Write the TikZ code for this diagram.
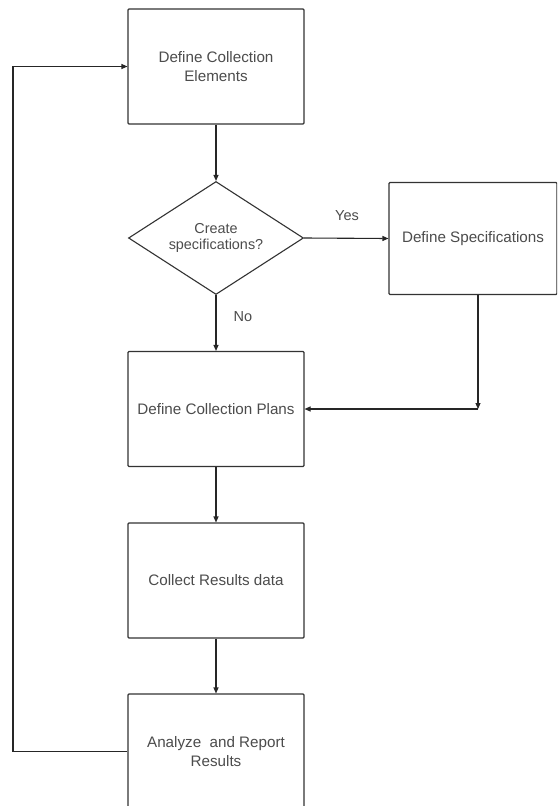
\documentclass[tikz,border=0pt]{standalone}
\usepackage{fontspec}
\setmainfont{Liberation Sans}
\usetikzlibrary{arrows.meta,shapes.geometric}
\begin{document}
\begin{tikzpicture}[x=1pt,y=-1pt,
  box/.style={draw=black!80, line width=1.1pt, rounded corners=1pt, minimum width=176pt, minimum height=115pt, inner sep=0pt, align=center, font=\fontsize{15.2}{18.5}\selectfont, text=black!70},
  dia/.style={draw=black!80, line width=1.1pt, shape=diamond, aspect=1.55, minimum width=175pt, minimum height=113pt, inner sep=0pt, align=center, font=\fontsize{14.4}{16}\selectfont, text=black!70},
  lbl/.style={font=\fontsize{14.5}{17}\selectfont, text=black!70, inner sep=0pt},
  arr/.style={draw=black!85, line width=1.1pt, -{Triangle[length=6pt,width=5pt]}}
]
\useasboundingbox (0,0) rectangle (557,806);
\fill[white] (0,0) rectangle (557,806);
\clip (0,0) rectangle (557,806);
\node[box] (b1) at (216,66.5) {Define Collection\\Elements};
\node[dia] (d) at (216,238) {Create\\specifications?};
\node[box, minimum width=168pt, minimum height=112pt] (b2) at (473,238.5) {Define Specifications};
\node[box] (b3) at (216,409) {Define Collection Plans};
\node[box] (b4) at (216,580.5) {Collect Results data};
\node[box] (b5) at (216,751.5) {Analyze\ \ and Report\\Results};
\node[lbl] (yes) at (347,216) {Yes};
\node[lbl] (no) at (243,317) {No};
\coordinate (c1) at (478,409);
\coordinate (c2) at (13,751.5);
\draw[arr] (b1) -- (d);
\draw[arr] (d.east) -- (b2.west);
\draw[arr] (d.south) -- (b3.north);
\draw[arr] (b2.south -| c1) -- (c1);
\draw[arr] (c1) -- (b3.east);
\draw[arr] (b3) -- (b4);
\draw[arr] (b4) -- (b5);
\draw[arr] (b5.west) -- (c2) |- (b1.west);
\end{tikzpicture}
\end{document}
